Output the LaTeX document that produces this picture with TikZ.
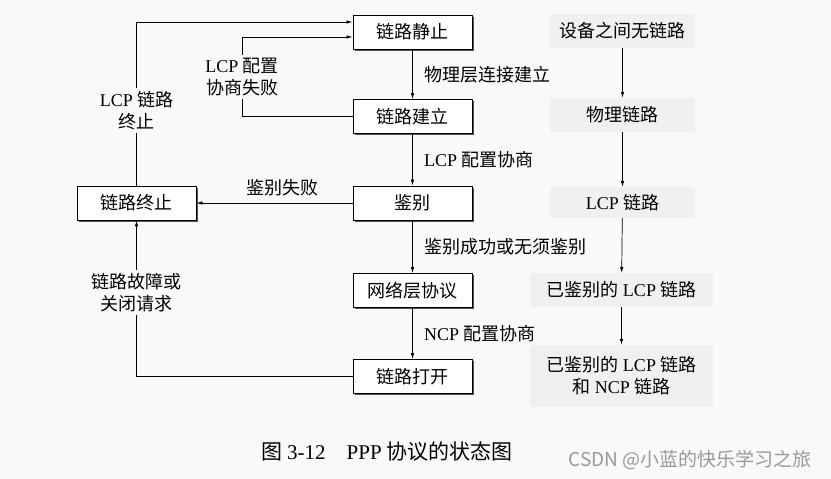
\documentclass[tikz,border=0pt]{standalone}
\usepackage{fontspec}
\setmainfont{Noto Sans CJK SC}
\newfontfamily\lat{Liberation Serif}
\usetikzlibrary{arrows.meta,shadows}
\definecolor{papier}{RGB}{249,249,249}
\definecolor{raster}{RGB}{240,240,240}
\begin{document}
\begin{tikzpicture}[x=1pt,y=-1pt,font=\fontsize{18}{22}\selectfont,
  box/.style={draw, line width=0.9pt, fill=white, minimum width=119pt, minimum height=34pt, inner sep=0pt,
    drop shadow={shadow xshift=1.6pt, shadow yshift=-1.8pt, fill=black!75, opacity=0.9}},
  feld/.style={fill=raster, inner sep=0pt, align=center},
  pfeil/.style={line width=0.7pt, -{Latex[length=6pt,width=3.5pt]}},
  lbl/.style={fill=papier, align=center, inner sep=3pt}]
		\fill [papier] (0,0) rectangle (831,479);
		\useasboundingbox (0,0) rectangle (831,479);
		% Zustaende
		\node [box] (ruhe) at (412.5,32) {链路静止};
		\node [box] (aufbau) at (412.5,116.5) {链路建立};
		\node [box] (auth) at (412.5,203) {鉴别};
		\node [box] (netz) at (412.5,290.5) {网络层协议};
		\node [box] (offen) at (412.5,376.5) {链路打开};
		\node [box] (ende) at (136.5,203) {链路终止};
		% Uebergaenge
		\draw [pfeil] (ruhe) -- (aufbau) node [midway, right=8pt] {物理层连接建立};
		\draw [pfeil] (aufbau) -- (auth) node [midway, right=8pt] {{\lat LCP} 配置协商};
		\draw [pfeil] (auth) -- (netz) node [midway, right=8pt] {鉴别成功或无须鉴别};
		\draw [pfeil] (netz) -- (offen) node [midway, right=8pt] {{\lat NCP} 配置协商};
		\draw [pfeil] (auth) -- (ende) node [pos=0.45, above=3pt] {鉴别失败};
		\coordinate (knick) at (242,77);
		\draw [pfeil] (aufbau.west) -| (knick) node [lbl] {{\lat LCP} 配置\\协商失败} |- ([yshift=-5pt]ruhe.west);
		\draw [pfeil] (ende.north) |- ([yshift=10pt]ruhe.west) node [pos=0.23, lbl] {{\lat LCP} 链路\\终止};
		\draw [pfeil] (offen.west) -| (ende.south) node [pos=0.77, lbl] {链路故障或\\关闭请求};
		% Phasen rechts
		\node [feld, minimum width=145pt, minimum height=34pt] (p1) at (622.5,31) {设备之间无链路};
		\node [feld, minimum width=145pt, minimum height=34pt] (p2) at (622.5,115) {物理链路};
		\node [feld, minimum width=145pt, minimum height=31pt] (p3) at (622.5,202.5) {{\lat LCP} 链路};
		\node [feld, minimum width=183pt, minimum height=34pt] (p4) at (621.5,290) {已鉴别的 {\lat LCP} 链路};
		\node [feld, minimum width=183pt, minimum height=62pt] (p5) at (621.5,376) {已鉴别的 {\lat LCP} 链路\\和 {\lat NCP} 链路};
		\foreach \a/\b in {p1/p2,p2/p3,p3/p4,p4/p5}
			\draw [pfeil] (\a) -- (\b);
		% Bildunterschrift
		\node [font=\fontsize{21}{21}\selectfont] (titel) at (387,452) {图 {\lat 3-12}\quad {\lat PPP} 协议的状态图};
		\node [text=black!40, font=\fontsize{19}{19}\selectfont] (marke) at (690,460) {CSDN @小蓝的快乐学习之旅};
\end{tikzpicture}
\end{document}
